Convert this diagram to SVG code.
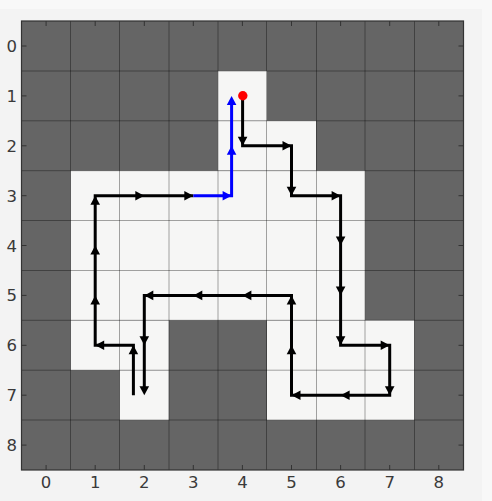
<svg xmlns="http://www.w3.org/2000/svg" xmlns:xlink="http://www.w3.org/1999/xlink" width="492" height="501" viewBox="0 0 492 501">
  <style>
    .free { fill: #f6f6f5; }
    .grid { stroke: #000; stroke-opacity: 0.35; stroke-width: 1; fill: none; }
    .tick { stroke: #333; stroke-width: 1; }
    .lbl { font-family: "DejaVu Sans", sans-serif; font-size: 16.5px; fill: #3a3a3a; }
    .pathA { fill: none; stroke: #000; stroke-width: 3; stroke-linejoin: miter; }
    .pathBlue { fill: none; stroke: #0000ff; stroke-width: 3; stroke-linejoin: miter; }
  </style>
  <defs>
    <path id="ahK" d="M0,0 L-9,-4.8 L-9,4.8 Z" fill="#000"/>
    <path id="ahB" d="M0,0 L-9,-4.8 L-9,4.8 Z" fill="#0000ff"/>
  </defs>

  <g id="background">
    <rect x="0" y="0" width="492" height="501" fill="#f8f8f8"/>
    <rect x="0" y="9" width="482" height="492" fill="#f3f3f3"/>
  </g>

  <g id="cells">
    <rect id="obstacles" x="21.5" y="21" width="442" height="449" fill="#656565"/>
    <rect class="free" x="217.9" y="70.9" width="49.1" height="49.9"/>
    <rect class="free" x="217.9" y="120.8" width="98.1" height="49.9"/>
    <rect class="free" x="70.7" y="170.7" width="294.4" height="149.6"/>
    <rect class="free" x="70.7" y="320.3" width="98.1" height="49.9"/>
    <rect class="free" x="119.7" y="370.2" width="49.1" height="49.9"/>
    <rect class="free" x="267.0" y="320.3" width="147.2" height="99.8"/>
  </g>

  <g id="gridlines" class="grid">
    <path d="M70.5,21V470 M119.5,21V470 M169,21V470 M218,21V470 M266.5,21V470 M316.5,21V470 M365,21V470 M414.5,21V470"/>
    <path d="M21.5,71H463.5 M21.5,120.8H463.5 M21.5,170.7H463.5 M21.5,220.5H463.5 M21.5,270.5H463.5 M21.5,320.3H463.5 M21.5,370.2H463.5 M21.5,420H463.5"/>
  </g>

  <g id="frame">
    <rect x="21.5" y="21" width="442" height="449" fill="none" stroke="#333" stroke-width="1.2"/>
  </g>

  <g id="ticks" class="tick">
    <path d="M46.1,21v5 M95.2,21v5 M144.3,21v5 M193.3,21v5 M242.4,21v5 M291.5,21v5 M340.6,21v5 M389.7,21v5 M438.8,21v5"/>
    <path d="M46.1,470v-5 M95.2,470v-5 M144.3,470v-5 M193.3,470v-5 M242.4,470v-5 M291.5,470v-5 M340.6,470v-5 M389.7,470v-5 M438.8,470v-5"/>
    <path d="M21.5,46h5 M21.5,95.9h5 M21.5,145.8h5 M21.5,195.7h5 M21.5,245.5h5 M21.5,295.4h5 M21.5,345.3h5 M21.5,395.2h5 M21.5,445.1h5"/>
    <path d="M463.5,46h-5 M463.5,95.9h-5 M463.5,145.8h-5 M463.5,195.7h-5 M463.5,245.5h-5 M463.5,295.4h-5 M463.5,345.3h-5 M463.5,395.2h-5 M463.5,445.1h-5"/>
  </g>

  <g id="ylabels" class="lbl" text-anchor="end">
    <text x="17" y="52">0</text>
    <text x="17" y="101.9">1</text>
    <text x="17" y="151.8">2</text>
    <text x="17" y="201.7">3</text>
    <text x="17" y="251.5">4</text>
    <text x="17" y="301.4">5</text>
    <text x="17" y="351.3">6</text>
    <text x="17" y="401.2">7</text>
    <text x="17" y="451.1">8</text>
  </g>
  <g id="xlabels" class="lbl" text-anchor="middle">
    <text x="46.1" y="488">0</text>
    <text x="95.2" y="488">1</text>
    <text x="144.3" y="488">2</text>
    <text x="193.3" y="488">3</text>
    <text x="242.4" y="488">4</text>
    <text x="291.5" y="488">5</text>
    <text x="340.6" y="488">6</text>
    <text x="389.7" y="488">7</text>
    <text x="438.8" y="488">8</text>
  </g>

  <g id="connectors">
    <g id="path-a">
      <polyline class="pathA" points="242.6,95.9 242.6,145.8 291.5,145.8 291.5,195.7 340.6,195.7 340.6,345.3 389.7,345.3 389.7,395.2 291.5,395.2 291.5,295.4 144.3,295.4 144.3,389"/>
      <use xlink:href="#ahK" transform="translate(242.6,145.8) rotate(90)"/>
      <use xlink:href="#ahK" transform="translate(291.5,145.8) rotate(0)"/>
      <use xlink:href="#ahK" transform="translate(291.5,195.7) rotate(90)"/>
      <use xlink:href="#ahK" transform="translate(340.6,195.7) rotate(0)"/>
      <use xlink:href="#ahK" transform="translate(340.6,245.5) rotate(90)"/>
      <use xlink:href="#ahK" transform="translate(340.6,295.4) rotate(90)"/>
      <use xlink:href="#ahK" transform="translate(340.6,345.3) rotate(90)"/>
      <use xlink:href="#ahK" transform="translate(389.7,345.3) rotate(0)"/>
      <use xlink:href="#ahK" transform="translate(389.7,395.2) rotate(90)"/>
      <use xlink:href="#ahK" transform="translate(340.6,395.2) rotate(180)"/>
      <use xlink:href="#ahK" transform="translate(291.5,395.2) rotate(180)"/>
      <use xlink:href="#ahK" transform="translate(291.5,345.3) rotate(-90)"/>
      <use xlink:href="#ahK" transform="translate(291.5,295.4) rotate(-90)"/>
      <use xlink:href="#ahK" transform="translate(242.4,295.4) rotate(180)"/>
      <use xlink:href="#ahK" transform="translate(193.3,295.4) rotate(180)"/>
      <use xlink:href="#ahK" transform="translate(144.3,295.4) rotate(180)"/>
      <use xlink:href="#ahK" transform="translate(144.3,345.3) rotate(90)"/>
      <use xlink:href="#ahK" transform="translate(144.3,395.2) rotate(90)"/>
    </g>
    <g id="path-b">
      <polyline class="pathA" points="133.4,395.2 133.4,345.3 95.2,345.3 95.2,195.7 193.3,195.7"/>
      <use xlink:href="#ahK" transform="translate(133.4,345.3) rotate(-90)"/>
      <use xlink:href="#ahK" transform="translate(95.2,345.3) rotate(180)"/>
      <use xlink:href="#ahK" transform="translate(95.2,295.4) rotate(-90)"/>
      <use xlink:href="#ahK" transform="translate(95.2,245.5) rotate(-90)"/>
      <use xlink:href="#ahK" transform="translate(95.2,195.7) rotate(-90)"/>
      <use xlink:href="#ahK" transform="translate(144.3,195.7) rotate(0)"/>
      <use xlink:href="#ahK" transform="translate(193.3,195.7) rotate(0)"/>
      <polyline class="pathBlue" points="193.3,195.7 231.6,195.7 231.6,101"/>
      <use xlink:href="#ahB" transform="translate(231.6,195.7) rotate(0)"/>
      <use xlink:href="#ahB" transform="translate(231.6,145.8) rotate(-90)"/>
      <use xlink:href="#ahB" transform="translate(231.6,95.9) rotate(-90)"/>
    </g>
  </g>

  <g id="start">
    <circle cx="242.8" cy="95.8" r="4.7" fill="#ff0000"/>
  </g>
</svg>
